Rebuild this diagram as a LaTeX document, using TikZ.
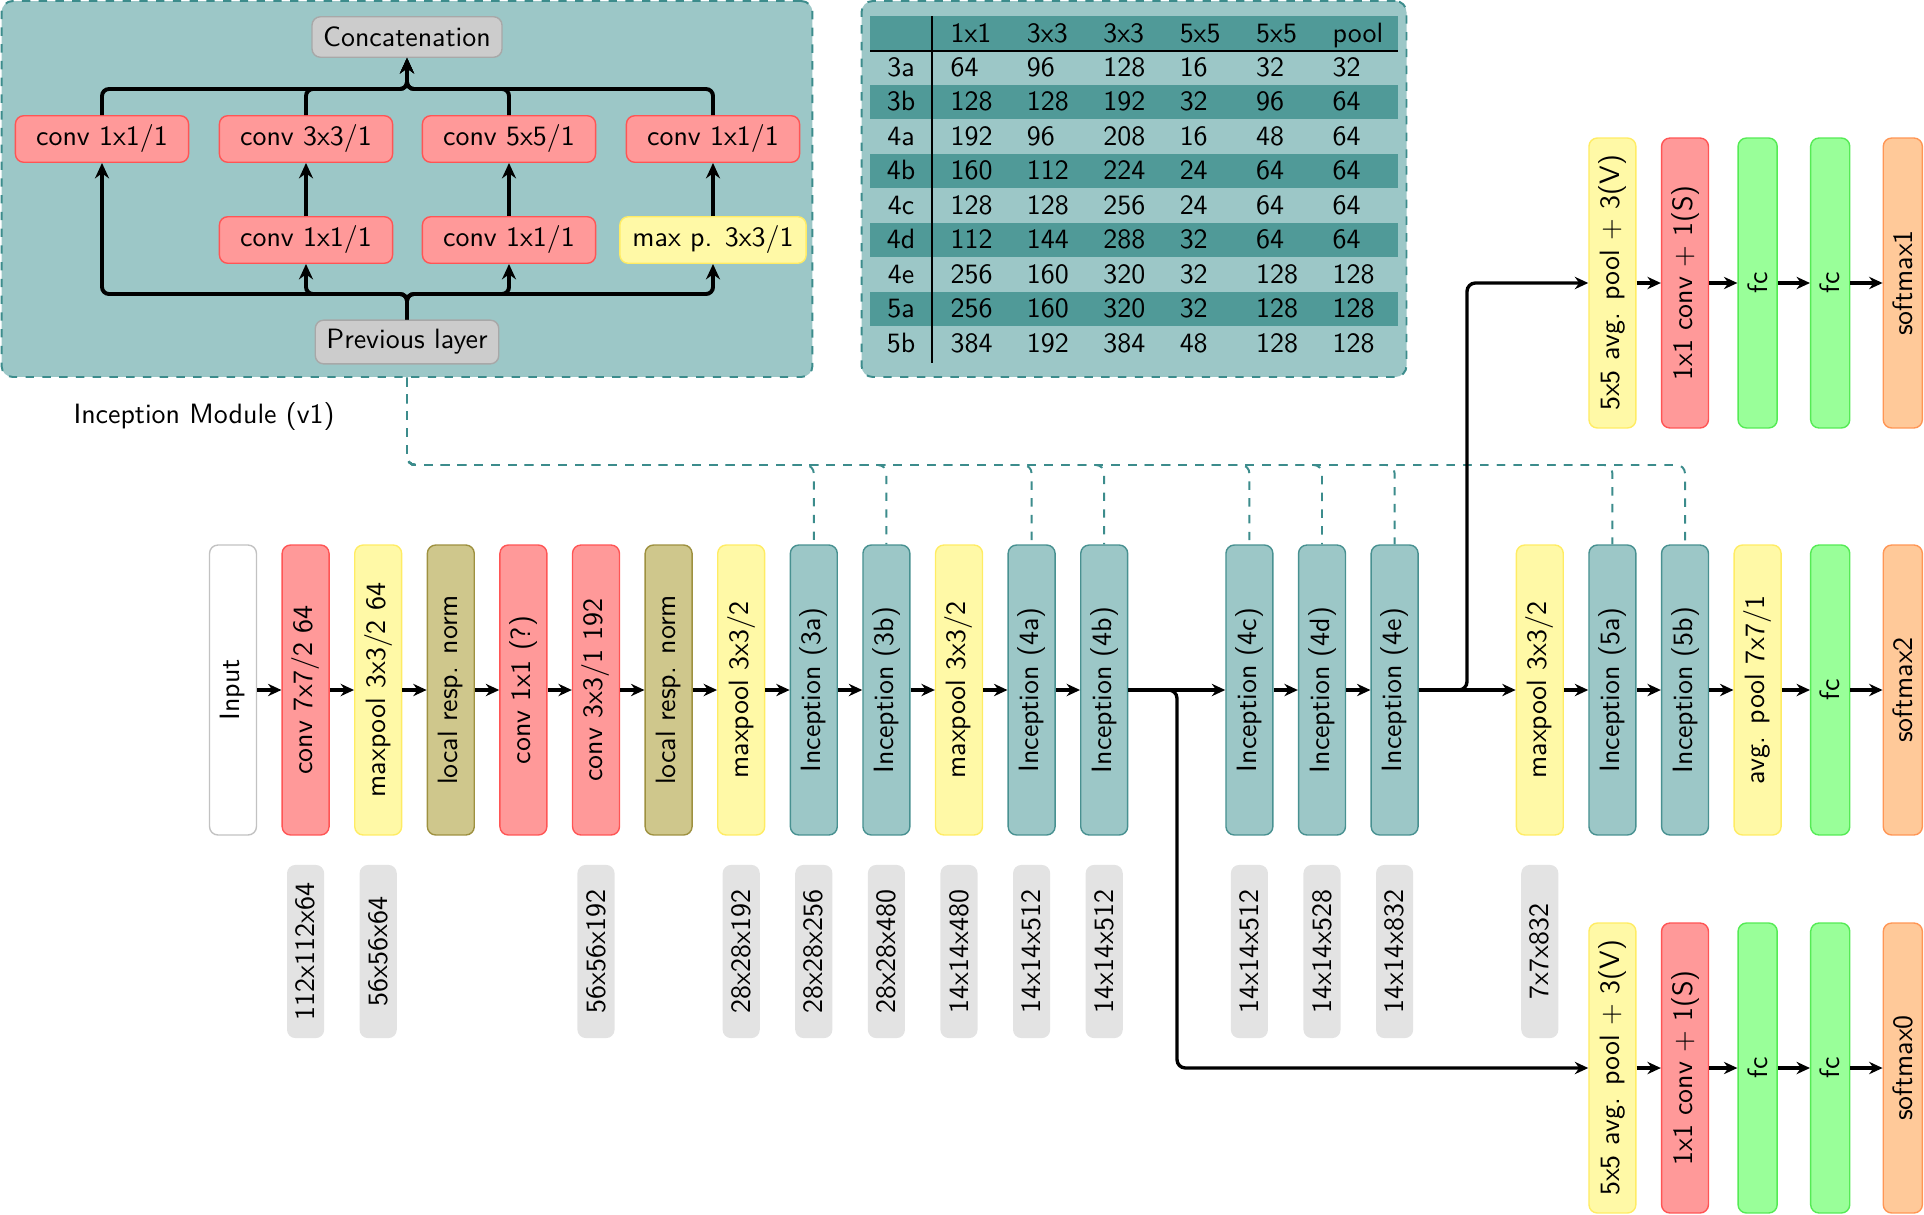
\documentclass[tikz,border=0pt]{standalone}
\usepackage{graphicx}
\usetikzlibrary{arrows.meta}
\renewcommand{\familydefault}{\sfdefault}

\definecolor{convfill}{RGB}{255,153,153}
\definecolor{convline}{RGB}{255,85,85}
\definecolor{poolfill}{RGB}{255,249,166}
\definecolor{poolline}{RGB}{255,236,100}
\definecolor{normfill}{RGB}{207,199,140}
\definecolor{normline}{RGB}{158,145,64}
\definecolor{incfill}{RGB}{156,199,199}
\definecolor{incline}{RGB}{72,145,145}
\definecolor{fcfill}{RGB}{153,255,153}
\definecolor{fcline}{RGB}{85,235,85}
\definecolor{smfill}{RGB}{255,201,153}
\definecolor{smline}{RGB}{255,150,85}
\definecolor{grayfill}{RGB}{204,204,204}
\definecolor{grayline}{RGB}{168,168,168}
\definecolor{dimfill}{RGB}{227,227,227}
\definecolor{paneline}{RGB}{60,140,140}
\definecolor{rowdark}{RGB}{80,154,152}

\newcommand{\vtext}[1]{\rotatebox{90}{#1}}

\begin{document}
\begin{tikzpicture}[x=0.358pt, y=-0.358pt,
  layer/.style={draw, rounded corners=3pt, line width=0.5pt, inner sep=0pt, minimum width=16.8pt, minimum height=103.8pt},
  narrow/.style={layer, minimum width=14pt},
  inbox/.style={layer, fill=white, draw=grayline!70},
  convbox/.style={layer, fill=convfill, draw=convline},
  poolbox/.style={layer, fill=poolfill, draw=poolline},
  normbox/.style={layer, fill=normfill, draw=normline},
  incbox/.style={layer, fill=incfill, draw=incline},
  fcbox/.style={narrow, fill=fcfill, draw=fcline},
  smbox/.style={narrow, fill=smfill, draw=smline},
  dimbox/.style={fill=dimfill, rounded corners=3pt, inner sep=0pt, minimum width=13.3pt, minimum height=62pt},
  panel/.style={fill=incfill, draw=paneline, dashed, line width=0.7pt, rounded corners=4pt, minimum height=134.6pt},
  modconv/.style={draw=convline, fill=convfill, rounded corners=3pt, line width=0.5pt, inner xsep=4.5pt, minimum width=62pt, minimum height=16.5pt},
  modpool/.style={modconv, draw=poolline, fill=poolfill},
  modgray/.style={modconv, draw=grayline, fill=grayfill, inner xsep=4pt, minimum width=0pt, minimum height=14.5pt},
  flow/.style={line width=1.2pt, -{Stealth[length=4.8pt,width=4.4pt]}},
  modflow/.style={line width=1.4pt, rounded corners=2.5pt, -{Stealth[length=5.5pt,width=5pt]}},
  link/.style={draw=paneline, dashed, line width=0.7pt, rounded corners=3pt},
  tabtext/.style={anchor=base west, inner sep=0pt},
]
\useasboundingbox (0,0) rectangle (1924,1214);

% panels
\node[panel, minimum width=290.3pt] (modpanel) at (407,189) {};
\node[panel, minimum width=195.1pt] (tabpanel) at (1134,189) {};
\node (modcap) at (204,417) {Inception Module (v1)};

% inception module
\node[modgray] (concat) at (407,37) {Concatenation};
\node[modconv] (m11) at (102,139) {conv 1x1/1};
\node[modconv] (m12) at (306,139) {conv 3x3/1};
\node[modconv] (m13) at (509,139) {conv 5x5/1};
\node[modconv] (m14) at (713,139) {conv 1x1/1};
\node[modconv] (m22) at (306,240) {conv 1x1/1};
\node[modconv] (m23) at (509,240) {conv 1x1/1};
\node[modpool] (m24) at (713,240) {max p. 3x3/1};
\node[modgray] (prev) at (407,342) {Previous layer};

\coordinate (bbus) at (407,294);
\coordinate (tbus) at (407,89);
\foreach \n in {m11,m22,m23,m24}
  \draw[modflow] (prev.north) -- (bbus) -| (\n.south);
\foreach \n in {m11,m12,m13,m14}
  \draw[modflow] (\n.north) |- (tbus) -- (concat.south);
\draw[modflow] (m22) -- (m12);
\draw[modflow] (m23) -- (m13);
\draw[modflow] (m24) -- (m14);

% table
\fill[rowdark] (870,16) rectangle (1398,51);
\foreach \k in {1,3,5,7}
  \fill[rowdark] (870,{50+34.5*\k}) rectangle (1398,{84.5+34.5*\k});
\draw[line width=0.6pt] (870,51) -- (1398,51);
\draw[line width=0.5pt] (932,16) -- (932,363);
\foreach \h [count=\j from 0] in {1x1,3x3,3x3,5x5,5x5,pool}
  \node[tabtext] (hd-\j) at ({950+76.4*\j},42) {\h};
\foreach \lab/\va/\vb/\vc/\vd/\ve/\vf [count=\k from 0] in {3a/64/96/128/16/32/32, 3b/128/128/192/32/96/64, 4a/192/96/208/16/48/64, 4b/160/112/224/24/64/64, 4c/128/128/256/24/64/64, 4d/112/144/288/32/64/64, 4e/256/160/320/32/128/128, 5a/256/160/320/32/128/128, 5b/384/192/384/48/128/128}{
  \node[anchor=base, inner sep=0pt] (rl-\k) at (901,{76+34.5*\k}) {\lab};
  \foreach \v [count=\j from 0] in {\va,\vb,\vc,\vd,\ve,\vf}
    \node[tabtext] (tc-\k-\j) at ({950+76.4*\j},{76+34.5*\k}) {\v};
}

% main row
\node[inbox] (inp) at (233,690) {\vtext{Input}};
\node[convbox] (c1) at (305.6,690) {\vtext{conv 7x7/2 64}};
\node[poolbox] (p1) at (378.2,690) {\vtext{maxpool 3x3/2 64}};
\node[normbox] (n1) at (450.8,690) {\vtext{local resp. norm}};
\node[convbox] (c2) at (523.4,690) {\vtext{conv 1x1 (?)}};
\node[convbox] (c3) at (596,690) {\vtext{conv 3x3/1 192}};
\node[normbox] (n2) at (668.6,690) {\vtext{local resp. norm}};
\node[poolbox] (p2) at (741.2,690) {\vtext{maxpool 3x3/2}};
\node[incbox] (i3a) at (813.8,690) {\vtext{Inception (3a)}};
\node[incbox] (i3b) at (886.4,690) {\vtext{Inception (3b)}};
\node[poolbox] (p3) at (959,690) {\vtext{maxpool 3x3/2}};
\node[incbox] (i4a) at (1031.6,690) {\vtext{Inception (4a)}};
\node[incbox] (i4b) at (1104.2,690) {\vtext{Inception (4b)}};
\node[incbox] (i4c) at (1249.4,690) {\vtext{Inception (4c)}};
\node[incbox] (i4d) at (1322,690) {\vtext{Inception (4d)}};
\node[incbox] (i4e) at (1394.6,690) {\vtext{Inception (4e)}};
\node[poolbox] (p4) at (1539.8,690) {\vtext{maxpool 3x3/2}};
\node[incbox] (i5a) at (1612.4,690) {\vtext{Inception (5a)}};
\node[incbox] (i5b) at (1685,690) {\vtext{Inception (5b)}};
\node[poolbox] (ap) at (1757.6,690) {\vtext{avg. pool 7x7/1}};
\node[fcbox] (fc) at (1830.2,690) {\vtext{fc}};
\node[smbox] (sm2) at (1902.8,690) {\vtext{softmax2}};

% auxiliary classifiers
\node[poolbox] (a1p) at (1612.4,283) {\vtext{5x5 avg. pool + 3(V)}};
\node[convbox] (a1c) at (1685,283) {\vtext{1x1 conv + 1(S)}};
\node[fcbox] (a1f) at (1757.6,283) {\vtext{fc}};
\node[fcbox] (a1g) at (1830.2,283) {\vtext{fc}};
\node[smbox] (sm1) at (1902.8,283) {\vtext{softmax1}};

\node[poolbox] (a0p) at (1612.4,1068) {\vtext{5x5 avg. pool + 3(V)}};
\node[convbox] (a0c) at (1685,1068) {\vtext{1x1 conv + 1(S)}};
\node[fcbox] (a0f) at (1757.6,1068) {\vtext{fc}};
\node[fcbox] (a0g) at (1830.2,1068) {\vtext{fc}};
\node[smbox] (sm0) at (1902.8,1068) {\vtext{softmax0}};

% output sizes
\foreach \x/\t [count=\k] in {305.6/112x112x64, 378.2/56x56x64, 596/56x56x192, 741.2/28x28x192, 813.8/28x28x256, 886.4/28x28x480, 959/14x14x480, 1031.6/14x14x512, 1104.2/14x14x512, 1249.4/14x14x512, 1322/14x14x528, 1394.6/14x14x832, 1539.8/7x7x832}
  \node[dimbox] (dim-\k) at (\x,951.5) {\vtext{\t}};

% module links
\coordinate (dlev) at (407,465);
\foreach \n in {i3a,i3b,i4a,i4b,i4c,i4d,i4e,i5a,i5b}
  \draw[link] (modpanel.south) -- (dlev) -| (\n.north);

% connections
\foreach \src/\dst in {inp/c1, c1/p1, p1/n1, n1/c2, c2/c3, c3/n2, n2/p2, p2/i3a, i3a/i3b, i3b/p3, p3/i4a, i4a/i4b, i4b/i4c, i4c/i4d, i4d/i4e, i4e/p4, p4/i5a, i5a/i5b, i5b/ap, ap/fc, fc/sm2, a1p/a1c, a1c/a1f, a1f/a1g, a1g/sm1, a0p/a0c, a0c/a0f, a0f/a0g, a0g/sm0}
  \draw[flow] (\src) -- (\dst);
\coordinate (split0) at (1177,690);
\coordinate (split1) at (1467,690);
\draw[flow, rounded corners=3pt] (i4b.east) -- (split0) |- (a0p.west);
\draw[flow, rounded corners=3pt] (i4e.east) -- (split1) |- (a1p.west);

\end{tikzpicture}
\end{document}
